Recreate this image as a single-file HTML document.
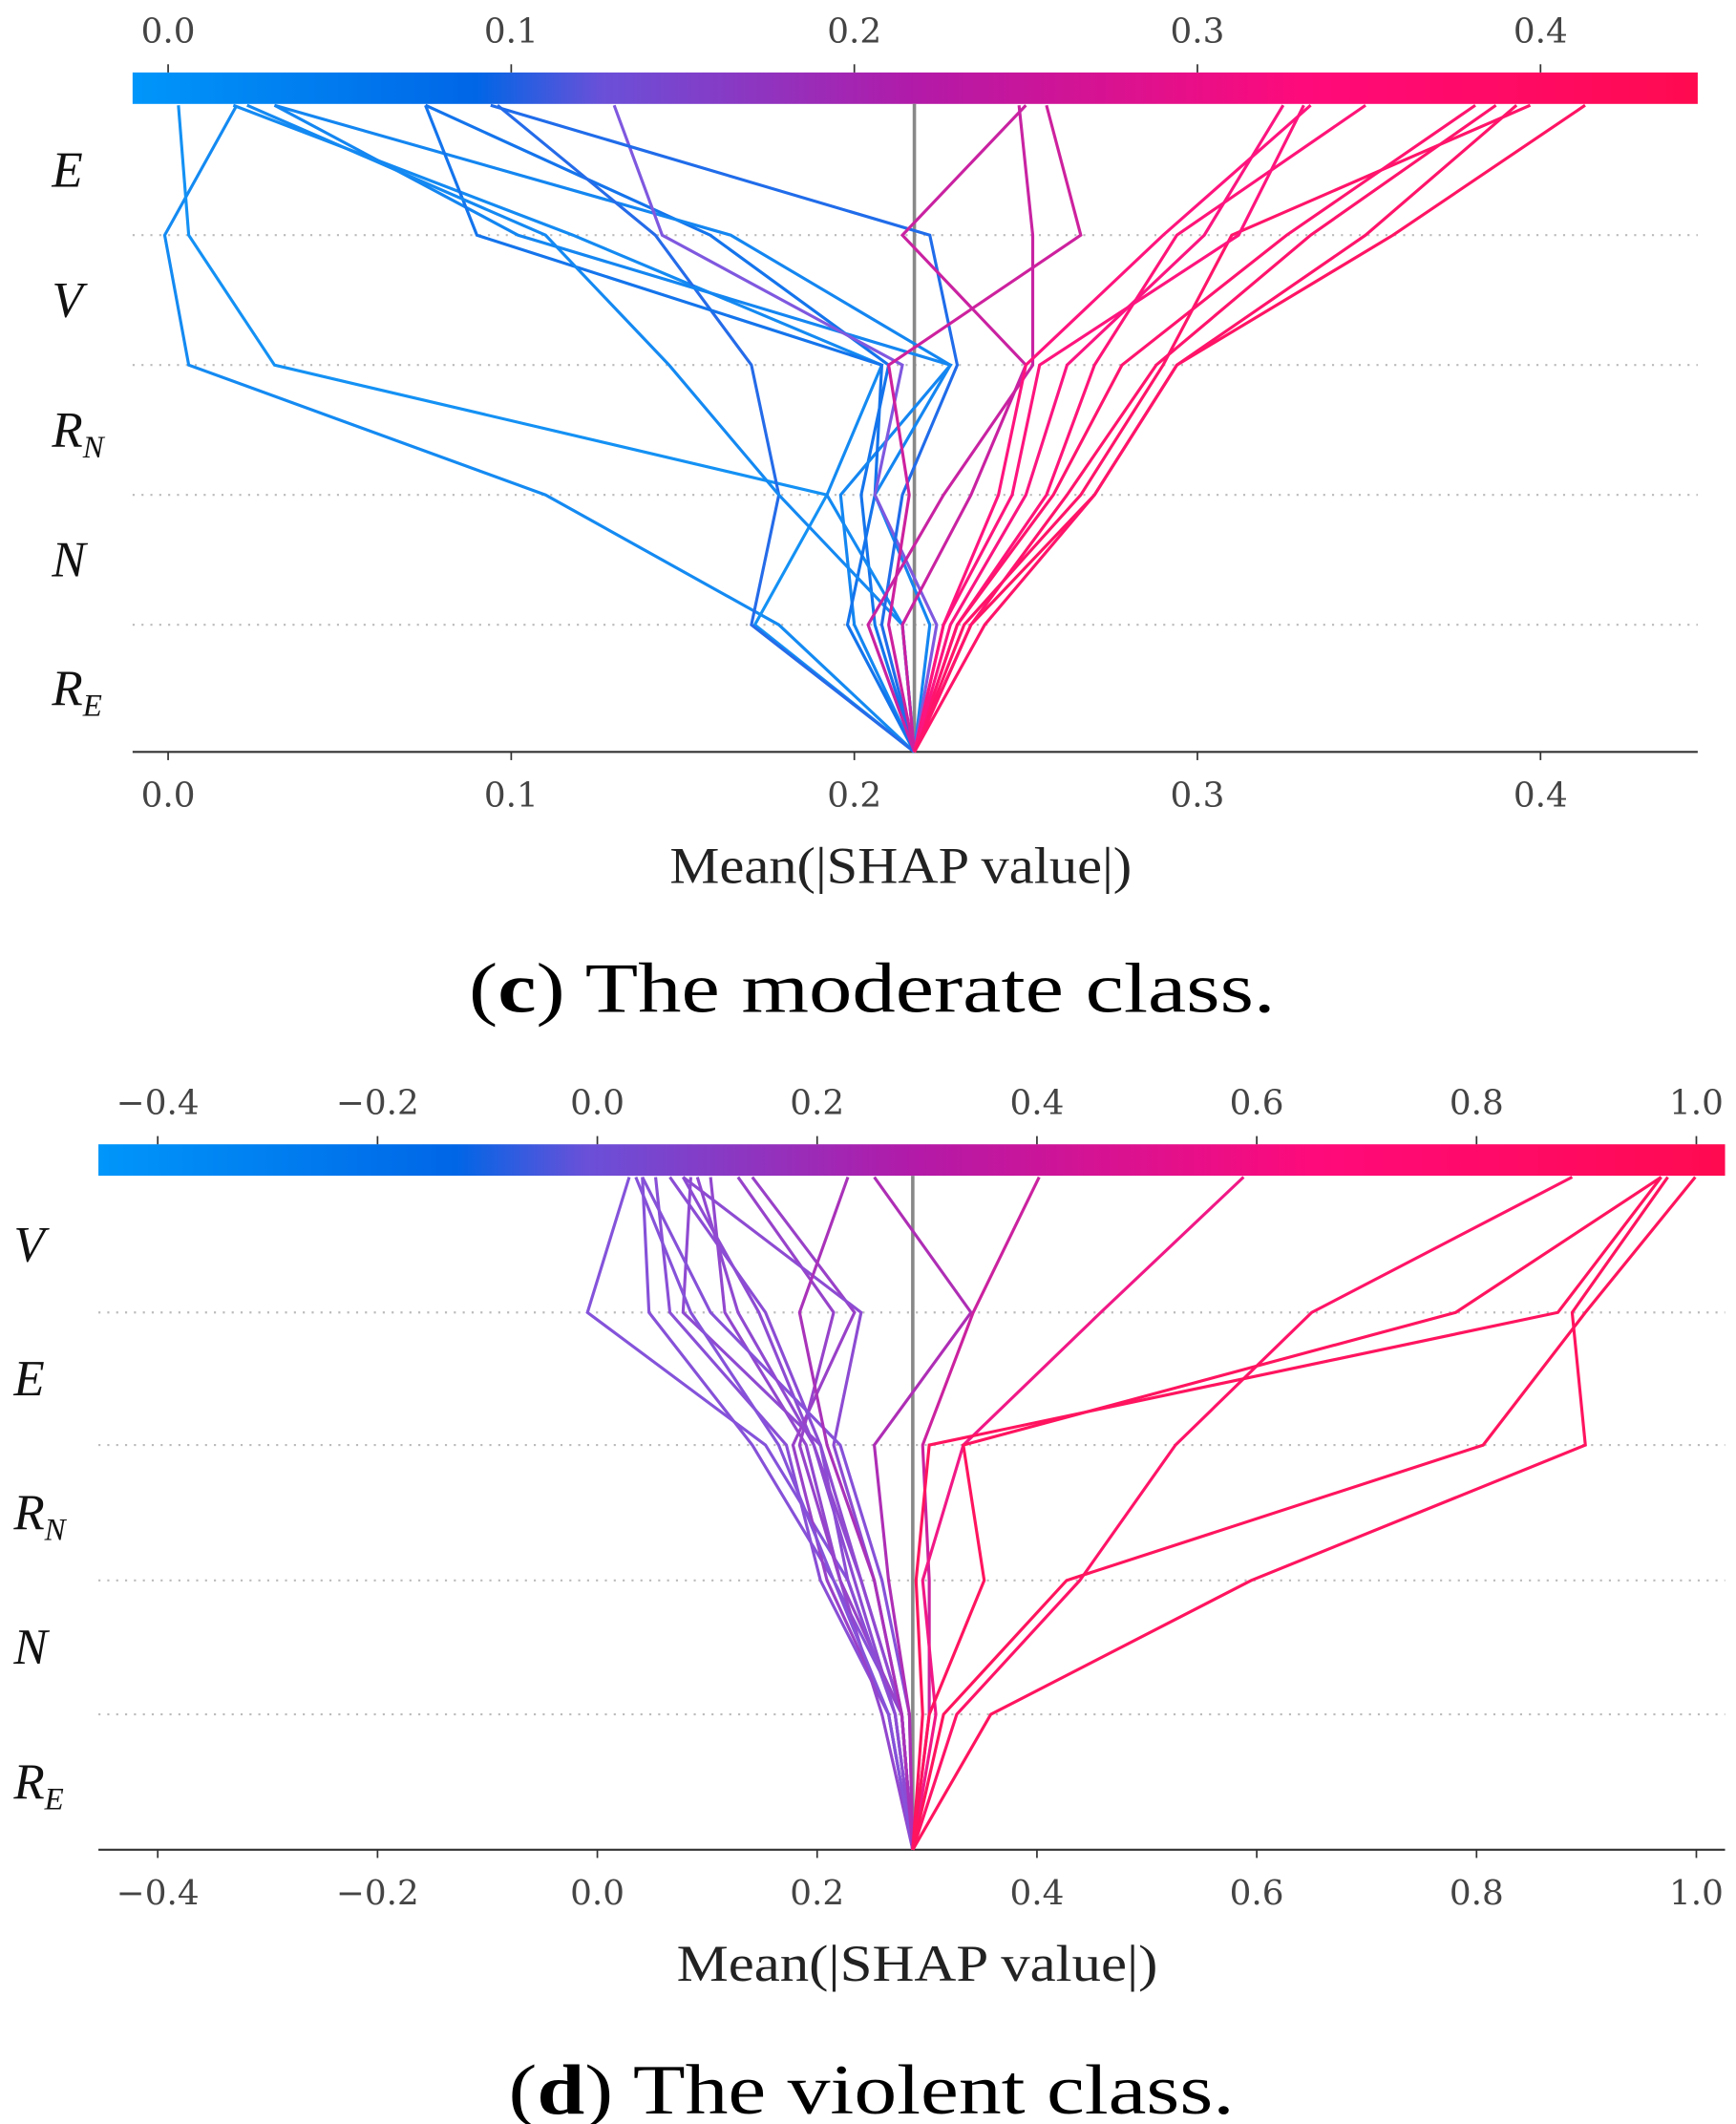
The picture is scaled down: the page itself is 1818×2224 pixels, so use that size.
<!DOCTYPE html>
<html><head><meta charset="utf-8">
<style>
html,body{margin:0;padding:0;background:#fff;}
svg{display:block;}
</style></head>
<body>
<svg id="chart" width="1818" height="2224" viewBox="0 0 1270 1553.6" xmlns="http://www.w3.org/2000/svg">
<defs>
<linearGradient id="cmap" x1="0" x2="1" y1="0" y2="0">
<stop offset="0" stop-color="#0096fa"/>
<stop offset="0.22" stop-color="#0066e6"/>
<stop offset="0.30" stop-color="#6a50d8"/>
<stop offset="0.50" stop-color="#b21aa8"/>
<stop offset="0.75" stop-color="#ff0a7a"/>
<stop offset="1" stop-color="#ff0a50"/>
</linearGradient>
</defs>
<g id="panelC"></g>
<g id="panelD"></g>
<text x="343" y="740" textLength="590" lengthAdjust="spacingAndGlyphs" style="font-family:'Liberation Serif',serif;font-size:52px">(<tspan font-weight="bold">c</tspan>) The moderate class.</text>
<text x="372" y="1546" textLength="531" lengthAdjust="spacingAndGlyphs" style="font-family:'Liberation Serif',serif;font-size:52px">(<tspan font-weight="bold">d</tspan>) The violent class.</text>
</svg>
<script>
// ---- Panel C data ----
const cFeatures = ["E","V","R_N","N","R_E"];
const cTicks = [0.0,0.1,0.2,0.3,0.4];
const cTickLabels = ["0.0","0.1","0.2","0.3","0.4"];
const cBase = 0.2175;
// cumulative values after R_E, N, R_N, V, E
const cSeries = [
[0.178,0.110,0.006,-0.001,0.020],
[0.171,0.192,0.031,0.006,0.003],
[0.206,0.202,0.210,0.158,0.075],
[0.200,0.196,0.228,0.164,0.031],
[0.214,0.192,0.208,0.118,0.019],
[0.170,0.178,0.170,0.142,0.096],
[0.222,0.206,0.228,0.102,0.031],
[0.198,0.206,0.208,0.090,0.075],
[0.214,0.178,0.146,0.110,0.023],
[0.224,0.206,0.214,0.144,0.130],
[0.208,0.214,0.230,0.222,0.094],
[0.210,0.216,0.210,0.266,0.256],
[0.204,0.226,0.252,0.252,0.248],
[0.214,0.234,0.250,0.214,0.250],
[0.226,0.242,0.250,0.290,0.333],
[0.230,0.256,0.270,0.294,0.349],
[0.232,0.266,0.290,0.310,0.397],
[0.234,0.270,0.294,0.357,0.413],
[0.230,0.258,0.278,0.326,0.381],
[0.226,0.246,0.254,0.312,0.331],
[0.238,0.270,0.294,0.349,0.393],
[0.228,0.250,0.262,0.302,0.325],
[0.234,0.262,0.288,0.333,0.387]
];
// ---- Panel D data ----
const dFeatures = ["V","E","R_N","N","R_E"];
const dTicks = [-0.4,-0.2,0.0,0.2,0.4,0.6,0.8,1.0];
const dTickLabels = ["\u22120.4","\u22120.2","0.0","0.2","0.4","0.6","0.8","1.0"];
const dBase = 0.287;
const dSeries = [
[0.271,0.228,0.153,-0.009,0.029],
[0.277,0.215,0.141,0.047,0.041],
[0.265,0.203,0.172,0.066,0.053],
[0.277,0.240,0.203,0.078,0.085],
[0.259,0.221,0.190,0.116,0.103],
[0.271,0.234,0.197,0.147,0.078],
[0.277,0.221,0.184,0.215,0.128],
[0.265,0.209,0.178,0.234,0.141],
[0.277,0.252,0.215,0.240,0.078],
[0.271,0.228,0.203,0.153,0.066],
[0.284,0.259,0.221,0.103,0.041],
[0.265,0.215,0.165,0.085,0.035],
[0.277,0.240,0.197,0.128,0.091],
[0.284,0.265,0.252,0.340,0.252],
[0.277,0.252,0.209,0.184,0.228],
[0.302,0.302,0.296,0.342,0.402],
[0.308,0.296,0.333,0.458,0.588],
[0.327,0.439,0.526,0.650,0.887],
[0.302,0.352,0.333,0.781,0.968],
[0.315,0.427,0.806,0.899,0.999],
[0.358,0.595,0.899,0.887,0.974],
[0.296,0.290,0.302,0.874,0.968]
];

const NS="http://www.w3.org/2000/svg";
function mk(tag,attrs,parent){const e=document.createElementNS(NS,tag);for(const k in attrs)e.setAttribute(k,attrs[k]);parent.appendChild(e);return e;}
const stops=[[0,[20,150,245]],[0.22,[20,110,235]],[0.30,[125,90,225]],[0.5,[180,40,175]],[0.75,[255,20,125]],[1,[255,20,90]]];
function cmap(t){t=Math.max(0,Math.min(1,t));for(let i=1;i<stops.length;i++){if(t<=stops[i][0]){const a=stops[i-1],b=stops[i];const f=(t-a[0])/(b[0]-a[0]);const c=a[1].map((v,j)=>Math.round(v+(b[1][j]-v)*f));return `rgb(${c[0]},${c[1]},${c[2]})`;}}return "rgb(255,20,90)";}
const serif="font-family:'DejaVu Serif',serif;";
const lserif="font-family:'Liberation Serif',serif;";

function panel(g,cfg){
  const sx=v=>cfg.x0+(v-cfg.v0)*cfg.ppu;
  const inv=px=>cfg.v0+(px-cfg.x0)/cfg.ppu;
  const lvl=cfg.levels;
  let r=mk("rect",{x:cfg.left,y:cfg.cbTop,width:cfg.right-cfg.left,height:cfg.cbH,fill:"url(#cmap)"},g);
  
  
  for(let i=1;i<=4;i++){
    const l=mk("line",{x1:cfg.left,x2:cfg.right,y1:lvl[i],y2:lvl[i],stroke:"#bbb","stroke-width":1.5,"stroke-dasharray":"1.5 5"},g);
    
    
  }
  let ax=mk("line",{x1:cfg.left,x2:cfg.right,y1:cfg.axisY,y2:cfg.axisY,stroke:"#333","stroke-width":1.5},g);
  
  
  cfg.ticks.forEach((v,i)=>{
    const x=sx(v);
    mk("line",{x1:x,x2:x,y1:cfg.axisY,y2:cfg.axisY+6,stroke:"#333","stroke-width":1.2},g);
    mk("line",{x1:x,x2:x,y1:cfg.cbTop-6,y2:cfg.cbTop,stroke:"#333","stroke-width":1.2},g);
    let t=mk("text",{x:x,y:cfg.axisY+40,"text-anchor":"middle",style:serif+"font-size:25px",fill:"#444"},g);t.textContent=cfg.tickLabels[i];
    
    
    let t2=mk("text",{x:x,y:cfg.cbTop-22,"text-anchor":"middle",style:serif+"font-size:25px",fill:"#444"},g);t2.textContent=cfg.tickLabels[i];
    
    
  });
  let xt=mk("text",{x:cfg.titleX,y:cfg.axisY+96,textLength:cfg.titleW,lengthAdjust:"spacingAndGlyphs",style:lserif+"font-size:38px",fill:"#222"},g);
  xt.textContent="Mean(|SHAP value|)";
  
  
  cfg.features.forEach((f,i)=>{
    const y=(lvl[5-i]+lvl[4-i])/2+12;
    const t=mk("text",{x:cfg.labelX,y:y,style:lserif+"font-size:37px;font-style:italic",fill:"#111"},g);
    if(f.includes("_")){const [a,b]=f.split("_");t.textContent=a;const s=mk("tspan",{style:"font-size:23px",dy:8},t);s.textContent=b;}
    else t.textContent=f;
    
    
  });
  let bl=mk("line",{x1:sx(cfg.base),x2:sx(cfg.base),y1:cfg.cbTop+cfg.cbH,y2:cfg.axisY,stroke:"#888","stroke-width":2.5},g);
  
  
  const lo=inv(cfg.left),hi=inv(cfg.right);
  cfg.series.forEach(s=>{
    const pts=[[sx(cfg.base),lvl[0]]];
    s.forEach((v,i)=>pts.push([sx(v),lvl[i+1]]));
    const p=mk("polyline",{points:pts.map(p=>p.join(",")).join(" "),fill:"none",stroke:cmap((s[4]-lo)/(hi-lo)),"stroke-width":2.2},g);
    
    
  });
}
panel(document.getElementById("panelC"),{
  x0:123,v0:0,ppu:2510,left:97,right:1242,cbTop:53,cbH:23,axisY:550,
  levels:[550,457,362,267,172,77],ticks:cTicks,tickLabels:cTickLabels,
  features:cFeatures,base:cBase,series:cSeries,labelX:38,titleX:490,titleW:338
});
panel(document.getElementById("panelD"),{
  x0:437,v0:0,ppu:804,left:72,right:1262,cbTop:837,cbH:23,axisY:1353,
  levels:[1353,1254,1156,1057,960,861],ticks:dTicks,tickLabels:dTickLabels,
  features:dFeatures,base:dBase,series:dSeries,labelX:10,titleX:495,titleW:352
});
</script>
</body></html>
